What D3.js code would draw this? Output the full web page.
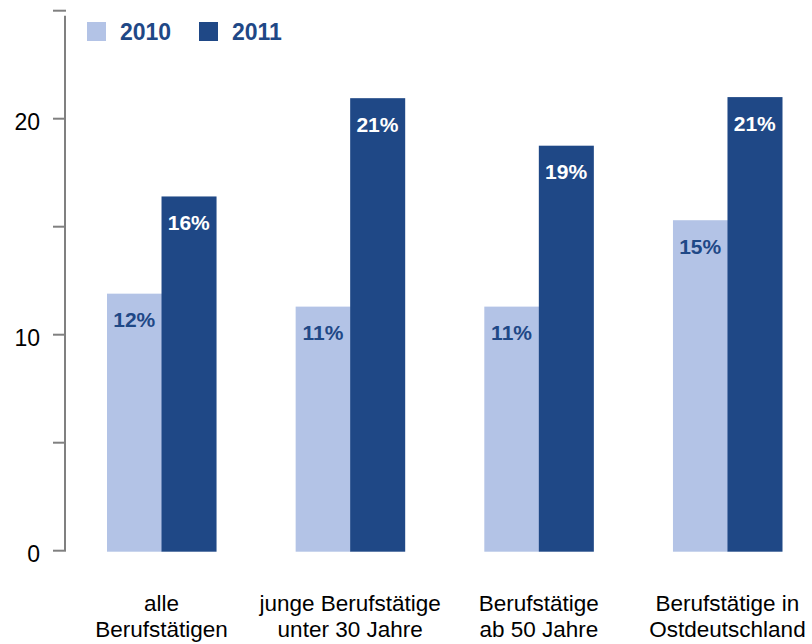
<!DOCTYPE html>
<html>
<head>
<meta charset="utf-8">
<script src="https://cdn.jsdelivr.net/npm/d3@7"></script>
<style>
  body { margin: 0; background: #fff; }
  svg { display: block; font-family: "Liberation Sans", Arial, sans-serif; }
</style>
</head>
<body>
<div id="chart"></div>
<script>
// --- données ---
const categories = [
  ["alle", "Berufstätigen"],
  ["junge Berufstätige", "unter 30 Jahre"],
  ["Berufstätige", "ab 50 Jahre"],
  ["Berufstätige in", "Ostdeutschland"]
];
const series = ["2010", "2011"];
const values2010 = [11.9, 11.3, 11.3, 15.3];
const values2011 = [16.4, 20.95, 18.75, 21.0];
const tickValues = [0, 5, 10, 15, 20, 25];
const tickLabels = [0, 10, 20];

const colors = { "2010": "#b3c3e6", "2011": "#1f4886" };

const width = 812, height = 644;

const svg = d3.select("#chart").append("svg")
  .attr("width", width).attr("height", height);

// échelles
const y = d3.scaleLinear().domain([0, 25]).range([550.7, 10.7]);

const x0 = d3.scaleBand()
  .domain(d3.range(categories.length))
  .range([107, 782])
  .paddingInner(0.422)
  .paddingOuter(0);

const x1 = d3.scaleBand().domain(series).range([0, x0.bandwidth()]);

// axe Y
const axisX = 65;
svg.append("line")
  .attr("x1", axisX).attr("x2", axisX)
  .attr("y1", y(25) + 5).attr("y2", y(0))
  .attr("stroke", "#808080").attr("stroke-width", 2);

svg.selectAll(".tick").data(tickValues).enter().append("line")
  .attr("x1", 53).attr("x2", axisX + 1)
  .attr("y1", d => y(d)).attr("y2", d => y(d))
  .attr("stroke", "#808080").attr("stroke-width", 2);

svg.selectAll(".ticklabel").data(tickLabels).enter().append("text")
  .attr("x", 40).attr("y", d => y(d))
  .attr("dy", "0.5em")
  .attr("text-anchor", "end")
  .style("font-size", "23px")
  .style("fill", "#000")
  .text(d => d);

// barres
const rows = categories.map((c, i) => ({ i, "2010": values2010[i], "2011": values2011[i] }));

const groups = svg.selectAll(".group").data(rows).enter().append("g")
  .attr("transform", d => `translate(${x0(d.i)},0)`);

groups.selectAll("rect").data(d => series.map(s => ({ s, v: d[s] }))).enter().append("rect")
  .attr("x", d => x1(d.s))
  .attr("width", x1.bandwidth() + 0.5)
  .attr("y", d => y(d.v))
  .attr("height", d => y(0) - y(d.v) + 1)
  .attr("fill", d => colors[d.s]);

groups.selectAll(".val").data(d => series.map(s => ({ s, v: d[s] }))).enter().append("text")
  .attr("x", d => x1(d.s) + x1.bandwidth() / 2)
  .attr("y", d => y(d.v) + 33.5)
  .attr("text-anchor", "middle")
  .style("font-size", "21px")
  .style("font-weight", "bold")
  .style("fill", d => d.s === "2010" ? colors["2011"] : "#fff")
  .text(d => Math.round(d.v) + "%");

// libellés des catégories
const catLabels = svg.selectAll(".cat").data(categories).enter().append("text")
  .attr("text-anchor", "middle")
  .style("font-size", "22.5px")
  .style("fill", "#000");

catLabels.selectAll("tspan").data((d, i) => d.map(t => ({ t, i }))).enter().append("tspan")
  .attr("x", d => x0(d.i) + x0.bandwidth() / 2)
  .attr("y", (d, j) => 611 + j * 26)
  .text(d => d.t);

// légende
const legend = svg.selectAll(".legend").data(series).enter().append("g")
  .attr("transform", (d, i) => `translate(${87 + i * 112},22)`);

legend.append("rect")
  .attr("width", 19).attr("height", 19)
  .attr("fill", d => colors[d]);

legend.append("text")
  .attr("x", 33).attr("y", 18)
  .style("font-size", "23px")
  .style("font-weight", "bold")
  .style("fill", colors["2011"])
  .text(d => d);
</script>
</body>
</html>
